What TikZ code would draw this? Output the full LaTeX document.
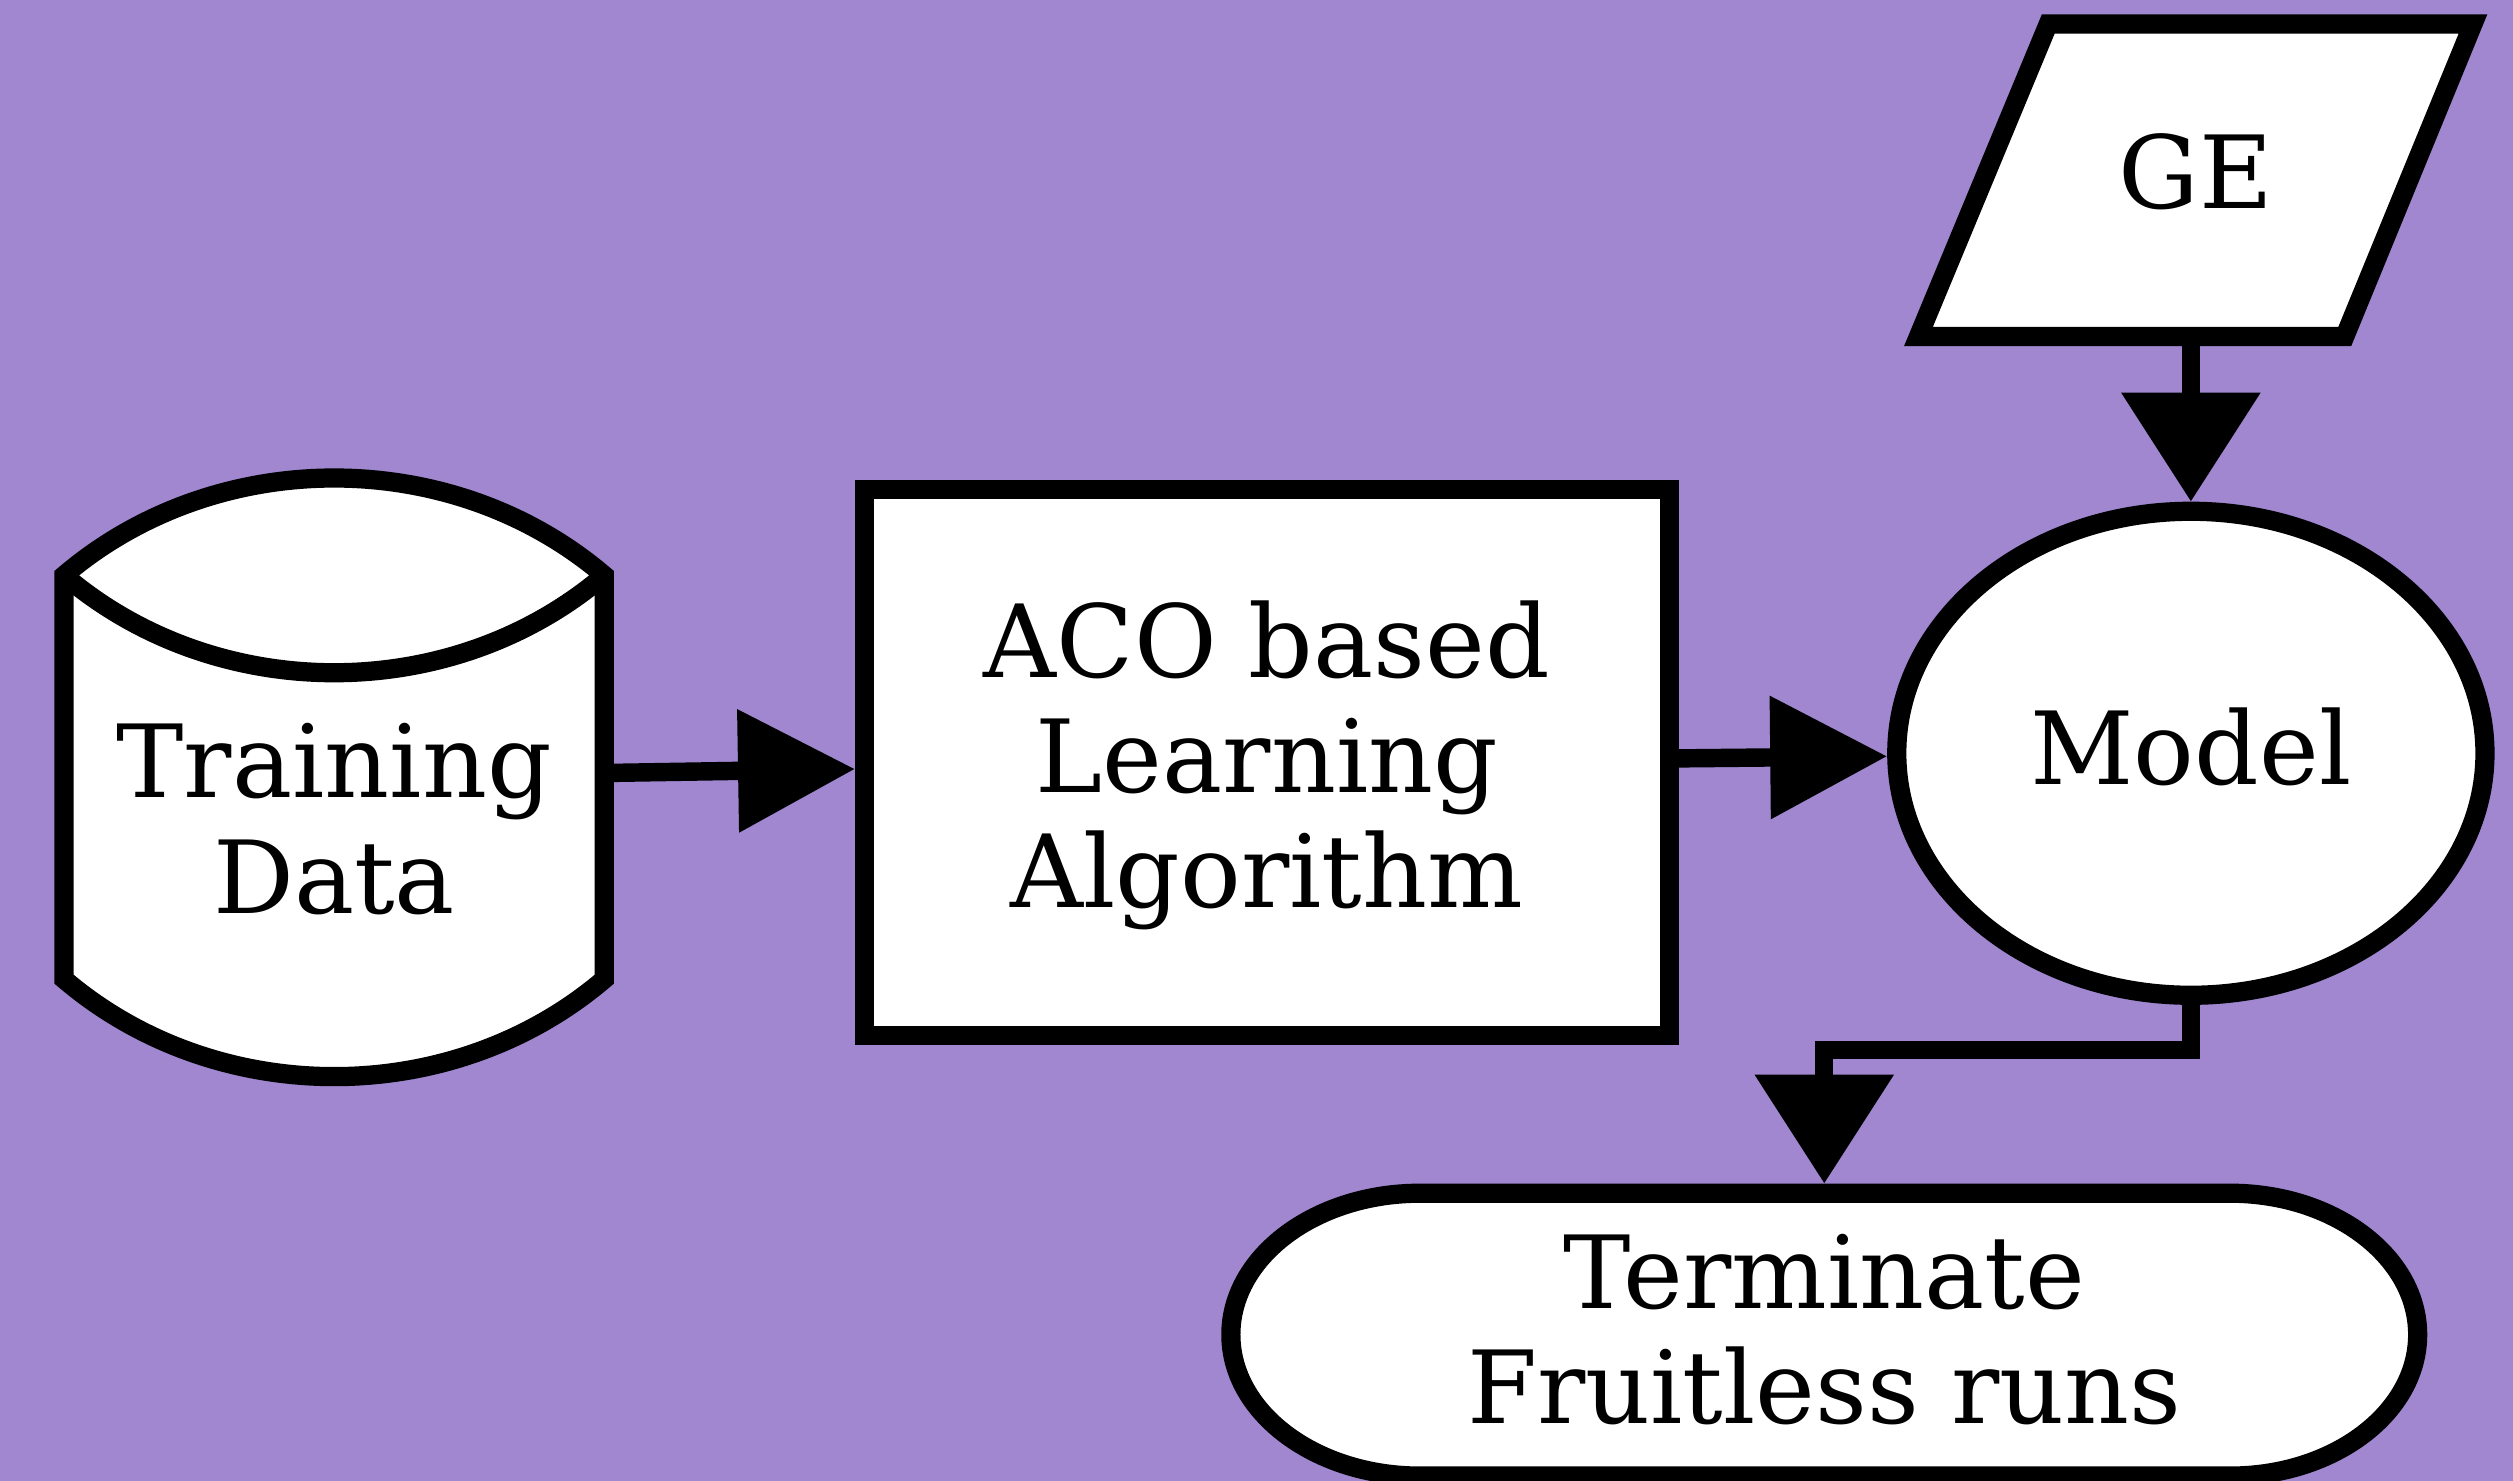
\documentclass[tikz,border=0pt]{standalone}
\usepackage{fontspec}
\setmainfont{DejaVu Serif}
\usetikzlibrary{arrows.meta,shapes.geometric}
\definecolor{bgpurple}{RGB}{160,135,208}
\begin{document}
\begin{tikzpicture}[x=1pt,y=-1pt,
  lw/.style={line width=12pt},
  shapeline/.style={draw=black, fill=white, line width=12pt, line join=miter},
  anchorbox/.style={inner sep=0pt, outer sep=6pt},
  lbl/.style={font=\fontsize{63}{72}\selectfont, align=center, inner sep=0pt},
  htip/.style={-{Triangle[length=73pt,width=74pt]}},
  vtip/.style={-{Triangle[length=68pt,width=84pt]}},
  conn/.style={draw=black, line width=11.5pt},
  ]
\fill[bgpurple] (0,0) rectangle (1568,924);
\useasboundingbox (0,0) rectangle (1568,924);

% Training Data (cylinder)
\path[shapeline] (40,359) .. controls (135,278) and (282,278) .. (377,359) -- (377,611)
  .. controls (282,692) and (135,692) .. (40,611) -- cycle;
\draw[lw] (40,359) .. controls (135,440) and (282,440) .. (377,359);
\node[anchorbox, minimum width=337pt, minimum height=370pt] (td) at (208.5,485) {};
\node[lbl] (tdtext) at (208.5,511) {Training\\Data};

% ACO box
\node[shapeline, rectangle, inner sep=0pt, minimum width=502pt, minimum height=340.5pt] (aco) at (790.5,475.75) {};
\node[lbl] (acotext) at (790.5,477.5) {ACO based\\Learning\\Algorithm};

% Model ellipse
\node[shapeline, ellipse, inner sep=0pt, minimum width=367pt, minimum height=302pt] (model) at (1367,470) {};
\node[lbl] (modeltext) at (1367,466) {Model};

% GE parallelogram
\path[shapeline] (1278,15) -- (1543,15) -- (1463,210) -- (1197,210) -- cycle;
\node[anchorbox, minimum width=266pt, minimum height=195pt] (ge) at (1370,112.5) {};
\node[lbl] (getext) at (1370,107) {GE};

% Terminate (stadium)
\path[shapeline] (886,744.5) -- (1391.5,744.5) arc[start angle=-90, end angle=90, x radius=117, y radius=88.25]
  -- (886,921) arc[start angle=90, end angle=270, x radius=118, y radius=88.25] -- cycle;
\node[anchorbox, minimum width=740.5pt, minimum height=176.5pt] (term) at (1138.25,832.75) {};
\node[lbl] (termtext) at (1138.25,829.5) {Terminate\\Fruitless runs};

% connectors
\draw[conn, htip] (td) -- (aco);
\draw[conn, htip] (aco) -- (model);
\draw[conn, vtip] (model.north |- ge.south) -- (model.north);
\draw[conn, vtip] (model.south) -- ++(0,28) -| (term.north);
\end{tikzpicture}
\end{document}
